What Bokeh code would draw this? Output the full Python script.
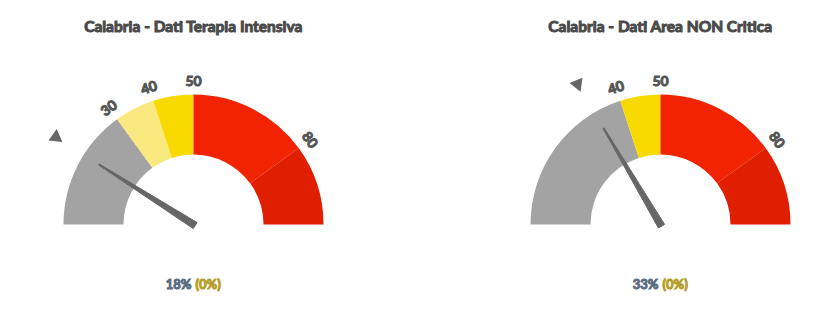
import math
from bokeh.plotting import figure
from bokeh.models import ColumnDataSource
from bokeh.core.properties import value
from bokeh.embed import file_html
from bokeh.resources import INLINE

# ---------------- data ----------------
titles = ["Calabria - Dati Terapia Intensiva", "Calabria - Dati Area NON Critica"]
values = [18, 33]            # needle value (%)
marker_values = [18, 33]     # previous value marker (%)
changes = [0, 0]             # change (%)
bands_1 = [0, 30, 40, 50, 80, 100]
bands_2 = [0, 40, 50, 80, 100]
ticks_1 = [30, 40, 50, 80]
ticks_2 = [40, 50, 80]
SCALE_MIN, SCALE_MAX = 0, 100

# ---------------- style ----------------
W, H = 831, 309
centers = [(193, 85), (660, 85)]
band_colors_1 = ["#a3a3a3", "#f9e97f", "#f8d900", "#f22300", "#df1f00"]
band_colors_2 = ["#a3a3a3", "#f8d900", "#f22300", "#df1f00"]
R_OUT, R_IN = 130, 70
R_LABEL, R_MARKER, R_NEEDLE = 144, 163, 112
FONT = value("Lato")
marker_rot = [-0.1, 1.43]


def ang(v):
    return math.pi * (1 - (v - SCALE_MIN) / (SCALE_MAX - SCALE_MIN))


p = figure(width=W, height=H, x_range=(0, W), y_range=(0, H),
           output_backend="svg", toolbar_location=None, min_border=0)
p.axis.visible = False
p.grid.visible = False
p.outline_line_color = None
p.background_fill_color = "white"
p.border_fill_color = "white"

all_bands = [bands_1, bands_2]
all_colors = [band_colors_1, band_colors_2]
all_ticks = [ticks_1, ticks_2]

for g in range(2):
    cx, cy = centers[g]
    edges = all_bands[g]
    wsrc = ColumnDataSource(dict(
        x=[cx] * (len(edges) - 1), y=[cy] * (len(edges) - 1),
        start=[ang(b) for b in edges[1:]], end=[ang(a) for a in edges[:-1]],
        color=all_colors[g]))
    p.annular_wedge(x="x", y="y", inner_radius=R_IN, outer_radius=R_OUT,
                    start_angle="start", end_angle="end",
                    fill_color="color", line_color=None, source=wsrc)

    # tick labels
    tks = all_ticks[g]
    tsrc = ColumnDataSource(dict(
        x=[cx + R_LABEL * math.cos(ang(t)) for t in tks],
        y=[cy + R_LABEL * math.sin(ang(t)) for t in tks],
        text=[str(t) for t in tks],
        angle=[ang(t) - math.pi / 2 for t in tks]))
    p.text(x="x", y="y", text="text", angle="angle", source=tsrc,
           text_font=FONT, text_font_style="bold", text_font_size="14px",
           text_color="#555555", text_outline_color="#555555",
           text_align="center", text_baseline="middle")

    # needle
    a = ang(values[g])
    ux, uy = math.cos(a), math.sin(a)
    px_, py_ = -uy, ux
    bw, tw = 3.6, 0.6
    back = 2
    xs = [cx - back * ux + bw * px_, cx + R_NEEDLE * ux + tw * px_,
          cx + R_NEEDLE * ux - tw * px_, cx - back * ux - bw * px_]
    ys = [cy - back * uy + bw * py_, cy + R_NEEDLE * uy + tw * py_,
          cy + R_NEEDLE * uy - tw * py_, cy - back * uy - bw * py_]
    p.patch(xs, ys, fill_color="#666666", line_color="#666666", line_width=1)

    # previous value marker
    m = ang(marker_values[g])
    p.scatter([cx + R_MARKER * math.cos(m)], [cy + R_MARKER * math.sin(m)],
              marker="triangle", size=14, angle=marker_rot[g],
              fill_color="#666666", line_color=None)

    # title
    p.text([cx], [H - 25], text=[titles[g]], text_font=FONT,
           text_font_style="bold", text_font_size="15.5px", text_color="#4a4a4a",
           text_outline_color="#4a4a4a",
           text_align="center", text_baseline="middle")

    # value text
    p.text([cx - 2], [H - 283], text=[f"{values[g]}%"], text_font=FONT,
           text_font_style="bold", text_font_size="13px", text_color="#5b6b80",
           text_outline_color="#5b6b80",
           text_align="right", text_baseline="middle")
    p.text([cx + 2], [H - 283], text=[f"({changes[g]}%)"], text_font=FONT,
           text_font_style="bold", text_font_size="13px", text_color="#b59d25",
           text_outline_color="#b59d25",
           text_align="left", text_baseline="middle")

open("out.html", "w").write(file_html(p, INLINE))
